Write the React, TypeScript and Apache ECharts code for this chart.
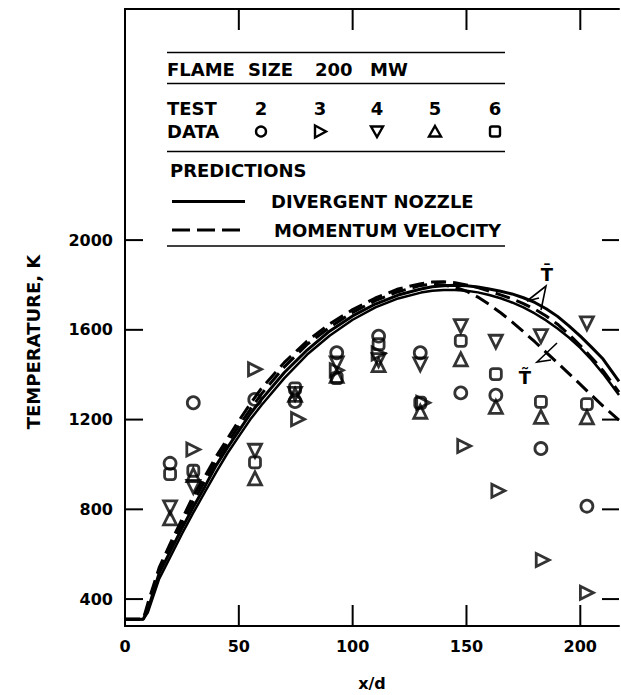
import React, { useEffect, useRef } from "react";
import * as echarts from "echarts";

// ---- data points (x/d, temperature K) per test ----
const test2X = [19.8, 30, 57, 74.7, 93, 111.4, 129.7, 147.5, 162.9, 182.7, 202.9];
const test2T = [1005, 1275, 1290, 1280, 1498, 1572, 1498, 1319, 1309, 1071, 814];

const test3X = [30, 57.1, 76, 93, 111.4, 131, 149, 164, 183.5, 202.9];
const test3T = [1067, 1424, 1202, 1420, 1495, 1275, 1082, 883, 574, 428];

const test4X = [19.8, 30, 57.1, 74.7, 93, 111.4, 129.7, 147.5, 162.9, 182.7, 202.9];
const test4T = [809, 900, 1061, 1315, 1450, 1465, 1446, 1617, 1547, 1572, 1629];

const test5X = [19.8, 30, 57.1, 74.7, 93, 111.4, 129.7, 147.5, 162.9, 182.7, 202.9];
const test5T = [760, 953, 938, 1310, 1395, 1443, 1235, 1468, 1257, 1212, 1210];

const test6X = [19.8, 30, 57.1, 74.7, 93, 111.4, 129.7, 147.5, 162.9, 182.7, 202.9];
const test6T = [957, 972, 1009, 1339, 1385, 1536, 1275, 1551, 1403, 1279, 1269];

// ---- predictions ----
const curveX = [0, 8, 10, 15, 20, 25, 30, 35, 40, 45, 50, 55, 60, 70, 80, 90, 100, 110, 120, 130, 135, 140, 145, 150, 155, 160, 165, 170, 175, 180, 185, 190, 195, 200, 205, 210, 217];
const nozzleMean = [310, 310, 350, 515, 615, 715, 810, 900, 995, 1075, 1150, 1225, 1290, 1410, 1510, 1595, 1662, 1715, 1755, 1782, 1792, 1797, 1799, 1797, 1791, 1782, 1772, 1760, 1743, 1722, 1694, 1660, 1618, 1572, 1522, 1470, 1370];
const nozzleFavre = [310, 310, 340, 490, 590, 690, 785, 875, 965, 1050, 1125, 1200, 1265, 1385, 1490, 1575, 1645, 1700, 1740, 1766, 1774, 1778, 1778, 1774, 1767, 1755, 1741, 1722, 1700, 1673, 1642, 1606, 1566, 1520, 1466, 1405, 1310];
const momentumMean = [310, 310, 380, 540, 650, 755, 860, 945, 1035, 1115, 1195, 1270, 1340, 1455, 1550, 1627, 1690, 1742, 1782, 1806, 1813, 1814, 1810, 1800, 1788, 1772, 1756, 1738, 1717, 1692, 1662, 1625, 1580, 1530, 1476, 1418, 1322];
const momentumFavre = [310, 310, 360, 525, 632, 735, 835, 925, 1015, 1095, 1172, 1245, 1315, 1435, 1535, 1612, 1678, 1730, 1770, 1798, 1804, 1800, 1790, 1772, 1746, 1713, 1676, 1636, 1592, 1547, 1500, 1453, 1405, 1357, 1308, 1260, 1198];

// ---- ticks ----
const xTickLabels = [0, 50, 100, 150, 200];
const xTicks = [50, 100, 150, 200];
const yTickLabels = [400, 800, 1200, 1600, 2000];

const X_MIN = 0;
const X_MAX = 217;
const Y_MIN = 280;
const Y_MAX = 3030;

const FONT = "DejaVu Sans";

const pairs = (xs: number[], ys: number[]) => xs.map((x, i) => [x, ys[i]]);

export default function App() {
  const ref = useRef<HTMLDivElement>(null);
  useEffect(() => {
    document.body.style.margin = "0";
    const chart = echarts.init(ref.current!, null, { renderer: "svg" });
    const black = "#000";

    const G_LEFT = 125, G_RIGHT = 2, G_TOP = 9, G_BOTTOM = 69;
    const gridW = 621 - G_LEFT - G_RIGHT;
    const gridH = 695 - G_TOP - G_BOTTOM;
    // linear mapping identical to the value axes' scale (used only for tick decorations)
    const px = (v: number) => G_LEFT + ((v - X_MIN) / (X_MAX - X_MIN)) * gridW;
    const py = (v: number) => G_TOP + ((Y_MAX - v) / (Y_MAX - Y_MIN)) * gridH;

    const markerStyle = { color: "transparent", borderColor: black, borderWidth: 2.8 };
    const scatter = (name: string, xs: number[], ys: number[], symbol: string, size: number, rot = 0) => ({
      type: "scatter",
      name,
      data: pairs(xs, ys),
      symbol,
      symbolSize: size,
      symbolRotate: rot,
      itemStyle: markerStyle,
      z: 5,
    });
    const line = (name: string, ys: number[], dashed: boolean, width: number) => ({
      type: "line",
      name,
      data: pairs(curveX, ys),
      showSymbol: false,
      symbol: "none",
      lineStyle: { color: black, width, type: dashed ? [15, 7] : "solid" },
      z: 3,
    });

    const labelStyle = { color: black, fontSize: 16, fontWeight: "bold", fontFamily: FONT };
    const axisLine = { show: true, lineStyle: { color: black, width: 2 } };
    const fmt = (v: number) => String(v);

    const seg = (x1: number, y1: number, x2: number, y2: number, w = 2) => ({
      type: "line",
      z: 100,
      shape: { x1, y1, x2, y2 },
      style: { stroke: black, lineWidth: w },
    });
    const txt = (text: string, x: number, y: number, align = "left") => ({
      type: "text",
      x,
      y,
      style: { text, fill: black, font: `bold 18px '${FONT}'`, align, verticalAlign: "middle" },
    });
    const mk = () => ({ fill: "none", stroke: black, lineWidth: 2.4 });

    const tickEls: any[] = [];
    yTickLabels.forEach((v) => {
      const y = py(v);
      tickEls.push(seg(G_LEFT, y, G_LEFT + 18, y));
      tickEls.push(seg(621 - G_RIGHT, y, 621 - G_RIGHT - 17, y));
    });
    xTicks.forEach((v) => {
      const x = px(v);
      tickEls.push(seg(x, G_TOP, x, G_TOP + 21));
      tickEls.push(seg(x, 695 - G_BOTTOM, x, 695 - G_BOTTOM - 21));
    });

    const graphics: any[] = [
      ...tickEls,
      seg(167, 52.5, 505, 52.5, 1.6), seg(167, 83.5, 505, 83.5, 1.6),
      seg(167, 151.5, 505, 151.5, 1.6), seg(167, 246, 505, 246, 1.6),
      txt("FLAME", 167, 69.5), txt("SIZE", 248, 69.5), txt("200", 315, 69.5), txt("MW", 370, 69.5),
      txt("TEST", 167, 108.5), txt("2", 261, 108.5, "center"), txt("3", 320, 108.5, "center"),
      txt("4", 377, 108.5, "center"), txt("5", 435, 108.5, "center"), txt("6", 495, 108.5, "center"),
      txt("DATA", 167, 131.5),
      { type: "circle", shape: { cx: 261, cy: 131.5, r: 5 }, style: mk() },
      { type: "polygon", shape: { points: [[315, 125.5], [326, 131.5], [315, 137.5]] }, style: mk() },
      { type: "polygon", shape: { points: [[371, 126.5], [383, 126.5], [377, 137]] }, style: mk() },
      { type: "polygon", shape: { points: [[435, 126], [441, 136.5], [429, 136.5]] }, style: mk() },
      { type: "rect", shape: { x: 490, y: 126.5, width: 10, height: 10, r: 2 }, style: mk() },
      txt("PREDICTIONS", 170, 170),
      seg(172, 201.5, 245, 201.5, 3),
      txt("DIVERGENT NOZZLE", 271, 201.5),
      { type: "line", shape: { x1: 172, y1: 230, x2: 245, y2: 230 }, style: { stroke: black, lineWidth: 3, lineDash: [18, 7] } },
      txt("MOMENTUM VELOCITY", 274, 230),
      {
        type: "text", x: 33, y: 342, rotation: Math.PI / 2,
        style: { text: "TEMPERATURE, K", fill: black, font: `bold 18px '${FONT}'`, align: "center", verticalAlign: "middle" },
      },
      txt("T\u0304", 547, 274, "center"),
      { type: "polyline", shape: { points: [[527, 301], [546, 286], [541, 310]] }, style: { stroke: black, lineWidth: 1.6, fill: "none" } },
      seg(527, 301, 539, 298, 1.6),
      txt("T\u0303", 525, 377, "center"),
      { type: "polyline", shape: { points: [[557, 343], [537, 362], [551, 360]] }, style: { stroke: black, lineWidth: 1.6, fill: "none" } },
    ];

    chart.setOption({
      animation: false,
      backgroundColor: "#fff",
      grid: { left: G_LEFT, right: G_RIGHT, top: G_TOP, bottom: G_BOTTOM, containLabel: false, outerBoundsMode: "none" },
      xAxis: [
        {
          type: "value", min: X_MIN, max: X_MAX, position: "bottom",
          axisLine, splitLine: { show: false }, axisTick: { show: false },
          axisLabel: { customValues: xTickLabels, margin: 12, formatter: fmt, ...labelStyle },
          name: "x/d", nameLocation: "middle", nameGap: 49,
          nameTextStyle: { ...labelStyle, fontSize: 16 },
        },
        {
          type: "value", min: X_MIN, max: X_MAX, position: "top",
          axisLine, splitLine: { show: false }, axisTick: { show: false },
          axisLabel: { show: false },
        },
      ],
      yAxis: [
        {
          type: "value", min: Y_MIN, max: Y_MAX, position: "left",
          axisLine, splitLine: { show: false }, axisTick: { show: false },
          axisLabel: { customValues: yTickLabels, margin: 12, formatter: fmt, ...labelStyle },
        },
        {
          type: "value", min: Y_MIN, max: Y_MAX, position: "right",
          axisLine, splitLine: { show: false }, axisTick: { show: false },
          axisLabel: { show: false },
        },
      ],
      series: [
        line("Divergent nozzle T̄", nozzleMean, false, 3),
        line("Divergent nozzle T̃", nozzleFavre, false, 2.5),
        line("Momentum velocity T̄", momentumMean, true, 3),
        line("Momentum velocity T̃", momentumFavre, true, 3),
        scatter("Test 2", test2X, test2T, "circle", 12),
        scatter("Test 3", test3X, test3T, "triangle", 13, -90),
        scatter("Test 4", test4X, test4T, "triangle", 13, 180),
        scatter("Test 5", test5X, test5T, "triangle", 13),
        scatter("Test 6", test6X, test6T, "roundRect", 11),
      ],
      graphic: graphics,
    });

    return () => chart.dispose();
  }, []);
  return <div ref={ref} style={{ width: 621, height: 695 }} />;
}
